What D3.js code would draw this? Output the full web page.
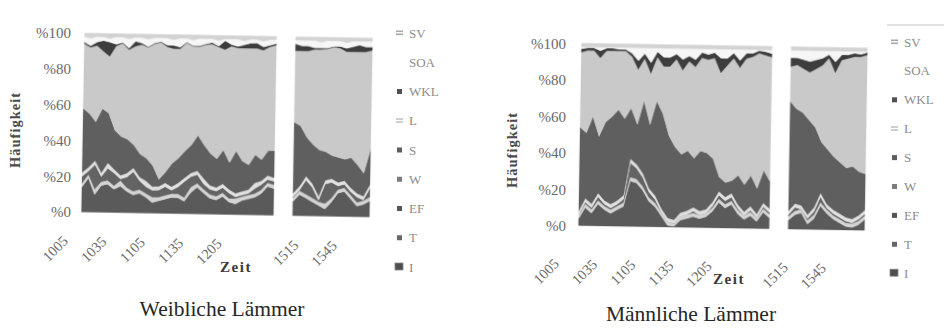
<!DOCTYPE html>
<html><head><meta charset="utf-8">
<script src="https://cdn.jsdelivr.net/npm/d3@7/dist/d3.min.js"></script>
<style>html,body{margin:0;padding:0;background:#fff;}svg{display:block;}</style>
</head><body>
<svg id="chart" width="944" height="332"></svg>
<script>
// ---------------- data ----------------
const seriesKeys = ["I","T","EF","W","S","L","WKL","SOA","SV"];      // stacking order, bottom -> top
const legendKeys = ["SV","SOA","WKL","L","S","W","EF","T","I"];      // legend order, top -> bottom
const morningTimes = ["1005","1010","1015","1020","1025","1030","1035","1040","1045","1050","1055","1100","1105","1110","1115","1120","1125","1130","1135","1140","1145","1150","1155","1200","1205","1210","1215","1220","1225","1230","1235"];
const afternoonTimes = ["1500","1505","1510","1515","1520","1525","1530","1535","1540","1545","1550","1555","1600"];
const gapSlots = ["", ""];
const categories = morningTimes.concat(gapSlots, afternoonTimes);
const tickLabels = ["1005","1035","1105","1135","1205","1515","1545"];
const yTicks = [0,20,40,60,80,100];

// Weibliche Lämmer – morning
const fmI   = [14,19,10,15,16,13,15,12,10,11,9,6,7,8,9,9,7,12,15,12,9,8,10,7,6,8,9,10,12,16,15];
const fmT   = [2,2,3,2,2,2,3,2,2,2,2,3,2,2,2,2,2,3,2,2,2,2,2,2,3,2,2,2,2,2,2];
const fmEF  = [4,2,14,3,7,7,1,6,11,5,4,4,4,5,2,4,9,6,5,3,3,3,3,3,1,1,1,3,3,2,2];
const fmW   = [2,2,2,2,3,2,2,2,2,2,3,2,2,2,2,2,2,2,2,3,2,2,2,2,2,2,2,3,2,2,2];
const fmS   = [36,30,22,36,28,22,22,19,13,13,13,12,4,6,13,14,15,16,20,19,18,16,19,15,24,17,14,16,12,14,15];
const fmL   = [36,37,43,32,32,47,52.5,50,55,61,62.5,68.5,76.5,70,64,61,60.5,55.5,49.5,56.5,61,62.5,56,65,58,63,65,60,61,58,59];
const fmWKL = [1,1,2,6,8,1,0.5,1,3,1,0.5,0.5,0.5,1,2,1,0.5,0.5,0.5,0.5,1,0.5,5,1,1,2,3,3,2,1,1];
const fmSOA = [3,4,3,2,2,4,3,5,2,3,4,3,2,4,3,5,2,3,4,3,2,3,1,3,4,2,2,2,3,3,2];
const fmSV  = [2,3,2,2,3,2,2,3,2,2,3,2,2,2,3,2,2,3,2,2,2,3,2,2,2,3,2,2,3,2,2];
// Weibliche Lämmer – afternoon
const faI   = [8,12,10,8,6,4,8,13,14,10,6,7,9];
const faT   = [2,2,2,2,2,3,2,2,2,2,2,2,2];
const faEF  = [0.5,0.5,8,6,1,11,9,2,2,2,3,0.5,5];
const faW   = [2,2,2,2,2,2,2,2,2,2,2,2,2];
const faS   = [40,34,22,22,26,16,13,14,12,17,16,13,20];
const faL   = [40,42,48,53,56,57.5,60.5,61,60,59,63,68,55];
const faWKL = [4,3,3,1,1,0.5,0.5,1,2,3,4,3,2];
const faSOA = [2,3,3,4,3,4,3,3,3,3,2,3,3];
const faSV  = [2,2,2,2,3,2,2,2,3,2,2,2,2];
// Männliche Lämmer – morning
const mmI   = [4,10,7,12,9,7,9,11,25,24,20,14,11,6,1,0.5,4,5,6,5,6,9,14,11,13,8,5,7,4,9,6];
const mmT   = [2,2,2,2,2,2,2,2,2,2,2,2,2,2,2,1.5,2,2,2,2,2,2,2,2,2,2,2,2,2,2,2];
const mmEF  = [0,1,1,2,1,1,1,2,8,6,5,3,2,0,0,0,0,0,1,0,0,1,2,2,2,1,0,1,0,1,1];
const mmW   = [2,2,2,2,2,2,2,2,2,2,2,2,2,2,2,2,2,2,2,2,2,2,2,2,2,2,2,2,2,2,2];
const mmS   = [46,36,48,31,43,48,50,42,28,22,40,35,52,52,45,40,32,33,27,33,31,24,8,8,7,16,15,17,14,18,15];
const mmL   = [41,45,36,43,39,36,32,37,28,30,23,28,24,26,38,48,46,49,50,51,51,55,57,64,67,59,69,65,74,63,68];
const mmWKL = [2,1.5,1.5,4,1.5,1.5,1,1,2,5,3,6,3,5,5,3,6,3,4,3,3,3,8,4,3,4,3,2,1.5,2,2];
const mmSOA = [1,0.5,0.5,2,0.5,0.5,1,1,3,7,3,8,2,5,5,3,6,4,6,2,3,2,5,5,2,6,2,2,0.5,1,2];
const mmSV  = [2,2,2,2,2,2,2,2,2,2,2,2,2,2,2,2,2,2,2,2,2,2,2,2,2,2,2,2,2,2,2];
// Männliche Lämmer – afternoon
const maI   = [5,8,9,3,6,13,9,6,4,2,1.5,3,6];
const maT   = [2,2,2,2,2,2,2,2,2,2,2,2,2];
const maEF  = [1,2,0,1,2,3,1,1,1,1,0.5,1,1];
const maW   = [2,2,2,2,2,2,2,2,2,2,2,2,2];
const maS   = [60,52,51,52,44,28,30,29,28,27,29,24,20];
const maL   = [19,24,24,26,32,42,50,46,56,60,60,63,65];
const maWKL = [5,4,5,6,5,4,2,6,3,2,2,1.5,1.5];
const maSOA = [4,4,5,6,5,4,2,6,2,2,1,1.5,0.5];
const maSV  = [2,2,2,2,2,2,2,2,2,2,2,2,2];

// ---------------- styles ----------------
const fillColors = {I:"#5a5a5a", T:"#d4d4d4", EF:"#636363", W:"#e0e0e0", S:"#5e5e5e", L:"#c9c9c9", WKL:"#3e3e3e", SOA:"#f6f6f6", SV:"#d3d3d3"};
const swatchColors = {SV:"#a8a8a8", SOA:"none", WKL:"#505050", L:"#c4c4c4", S:"#5e5e5e", W:"#7c7c7c", EF:"#555555", T:"#666666", I:"#4e4e4e"};
const serif = "'Liberation Serif','DejaVu Serif',serif";

const charts = [
  {title:"Weibliche Lämmer",
   morning:{times:morningTimes, values:{I:fmI,T:fmT,EF:fmEF,W:fmW,S:fmS,L:fmL,WKL:fmWKL,SOA:fmSOA,SV:fmSV}},
   afternoon:{times:afternoonTimes, values:{I:faI,T:faT,EF:faEF,W:faW,S:faS,L:faL,WKL:faWKL,SOA:faSOA,SV:faSV}},
   x0:83, x1:371, top:35.5, bottom:214.5, tilt:1.0, axisX:71, axisShift:-2.5,
   tickDx:-14, tickDy:30, zeit:[236,272], titlePos:[222,316], yTitle:[15,130],
   legendX:398, legendY:33, legendStep:29.25, legendLine:false},
  {title:"Männliche Lämmer",
   morning:{times:morningTimes, values:{I:mmI,T:mmT,EF:mmEF,W:mmW,S:mmS,L:mmL,WKL:mmWKL,SOA:mmSOA,SV:mmSV}},
   afternoon:{times:afternoonTimes, values:{I:maI,T:maT,EF:maEF,W:maW,S:maS,L:maL,WKL:maWKL,SOA:maSOA,SV:maSV}},
   x0:580, x1:866, top:45.5, bottom:228, tilt:0.95, axisX:566, axisShift:-2.3,
   tickDx:-20, tickDy:39, zeit:[729,284], titlePos:[691,321], yTitle:[512,150],
   legendX:893, legendY:42, legendStep:28.9, legendLine:true}
];

// ---------------- drawing ----------------
const svg = d3.select("#chart");
svg.append("rect").attr("width",944).attr("height",332).attr("fill","#ffffff");
const flt = svg.append("defs").append("filter").attr("id","scan")
  .attr("x","-5%").attr("y","-5%").attr("width","110%").attr("height","110%");
flt.append("feGaussianBlur").attr("stdDeviation",0.65);

charts.forEach(c => {
  const g = svg.append("g");
  const x = d3.scaleLinear().domain([0, categories.length - 1]).range([c.x0, c.x1]);
  const y = d3.scaleLinear().domain([0, 100]).range([c.bottom, c.top]);
  const cx = (c.x0 + c.x1) / 2, cy = (c.top + c.bottom) / 2;
  const slope = Math.tan(c.tilt * Math.PI / 180);

  const plot = g.append("g")
    .attr("transform", `rotate(${c.tilt},${cx},${cy})`)
    .attr("filter", "url(#scan)");
  const stack = d3.stack().keys(seriesKeys).offset(d3.stackOffsetExpand);
  const area = d3.area()
    .x(d => x(d.data.idx))
    .y0(d => y(d[0] * 100))
    .y1(d => y(d[1] * 100));

  [c.morning, c.afternoon].forEach(block => {
    const rows = block.times.map((t, i) => {
      const r = {idx: categories.indexOf(t)};
      seriesKeys.forEach(k => r[k] = block.values[k][i]);
      return r;
    });
    plot.append("g").selectAll("path").data(stack(rows)).join("path")
      .attr("fill", d => fillColors[d.key])
      .attr("stroke", d => fillColors[d.key])
      .attr("stroke-width", 0.3)
      .attr("d", area);
  });

  // y axis
  const ya = g.append("g")
    .attr("transform", `translate(${c.axisX},${c.axisShift})`)
    .call(d3.axisLeft(y).tickValues(yTicks).tickFormat(d => "%" + d).tickSize(0).tickPadding(0));
  ya.select(".domain").remove();
  ya.selectAll("text").attr("font-family", serif).attr("font-size", 15).attr("fill", "#686868");

  // x tick labels
  g.append("g").selectAll("text").data(tickLabels).join("text")
    .attr("transform", d => {
      const tx = x(categories.indexOf(d));
      const ty = c.bottom + c.tickDy + (tx - cx) * slope;
      return `translate(${tx + c.tickDx},${ty}) rotate(-45)`;
    })
    .attr("text-anchor", "end")
    .attr("font-family", serif).attr("font-size", 14.5).attr("fill", "#686868")
    .text(d => d);

  // axis titles
  g.append("text").attr("x", c.zeit[0]).attr("y", c.zeit[1])
    .attr("text-anchor", "middle").attr("font-family", serif).attr("font-weight", "bold")
    .attr("font-size", 15).attr("letter-spacing", 1.5).attr("fill", "#3a3a3a").text("Zeit");
  g.append("text").attr("transform", `translate(${c.yTitle[0]},${c.yTitle[1]}) rotate(-90)`)
    .attr("text-anchor", "middle").attr("dominant-baseline", "central")
    .attr("font-family", serif).attr("font-weight", "bold")
    .attr("font-size", 14.5).attr("letter-spacing", 1).attr("fill", "#4a4a4a").text("Häufigkeit");

  // chart title
  g.append("text").attr("x", c.titlePos[0]).attr("y", c.titlePos[1])
    .attr("text-anchor", "middle").attr("font-family", serif)
    .attr("font-size", 21.5).attr("fill", "#262626").text(c.title);

  // legend
  if (c.legendLine) {
    g.append("line").attr("x1", c.legendX - 6).attr("x2", 944).attr("y1", 25).attr("y2", 25)
      .attr("stroke", "#c8c8c8").attr("stroke-width", 1);
  }
  const lg = g.append("g").selectAll("g").data(legendKeys).join("g")
    .attr("transform", (d, i) => `translate(${c.legendX},${c.legendY + i * c.legendStep})`);
  lg.each(function(d) {
    const s = d3.select(this);
    if (d === "SV" || d === "L") {
      s.append("rect").attr("x", -2).attr("y", -2.5).attr("width", 7).attr("height", 1.6).attr("fill", swatchColors[d]);
      s.append("rect").attr("x", -2).attr("y", 0.5).attr("width", 7).attr("height", 1.6).attr("fill", swatchColors[d]);
    } else if (d === "I") {
      s.append("rect").attr("x", -3).attr("y", -4).attr("width", 8).attr("height", 7)
        .attr("fill", swatchColors[d]).attr("stroke", "#888").attr("stroke-width", 0.8);
    } else if (d !== "SOA") {
      s.append("rect").attr("x", -1).attr("y", -2.5).attr("width", 5).attr("height", 5)
        .attr("fill", swatchColors[d]);
    }
  });
  lg.append("text").attr("x", 11).attr("y", 0).attr("dominant-baseline", "central")
    .attr("font-family", serif).attr("font-size", 13).attr("fill", "#8c8c8c")
    .text(d => d);
});
</script>
</body></html>
